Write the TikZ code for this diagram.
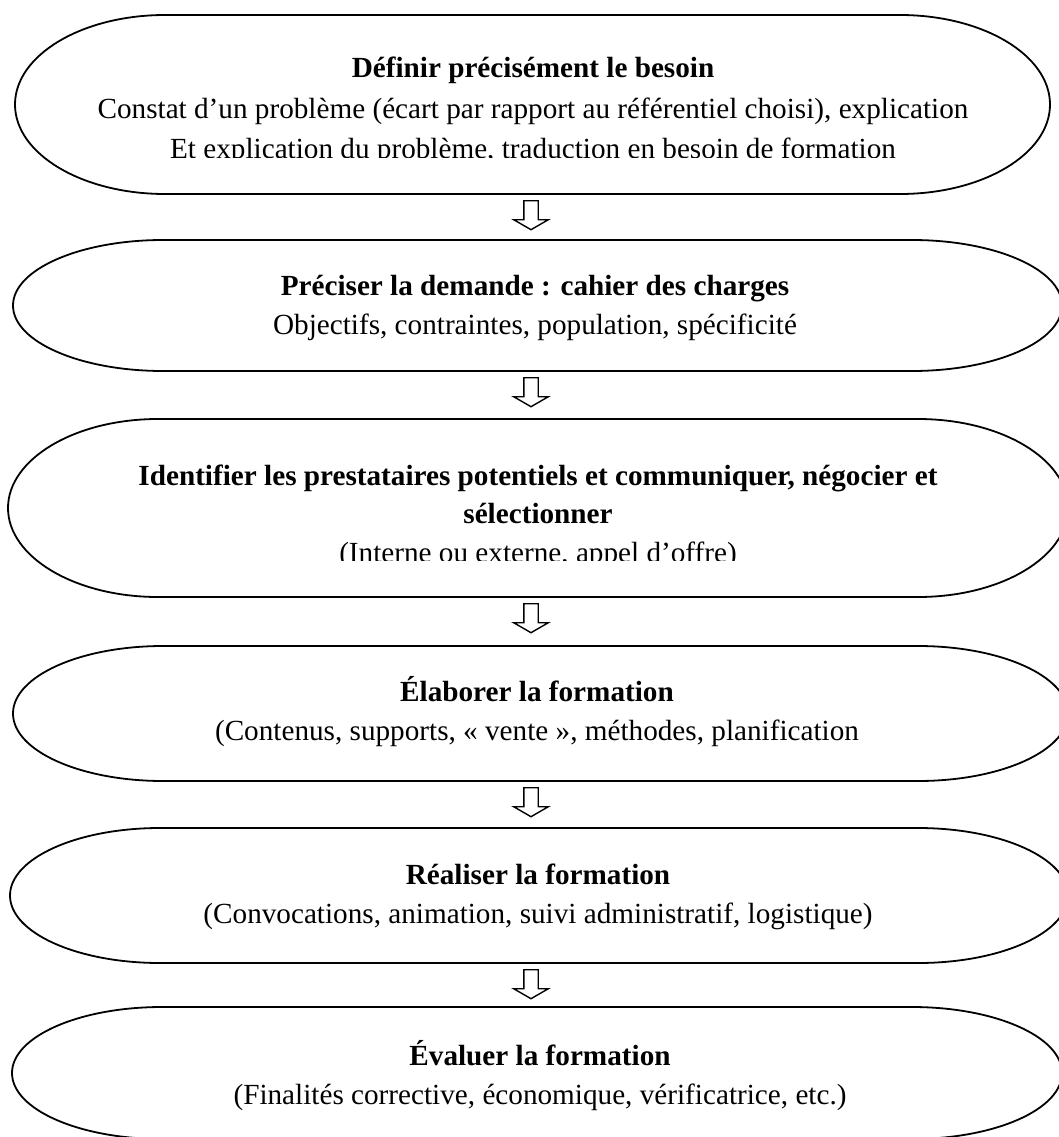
\documentclass[tikz,border=0pt]{standalone}
\usepackage{fontspec}
\setmainfont{Liberation Serif}
\usetikzlibrary{shapes.arrows}
\newcommand\stadium[2]{\draw[outline] ([xshift=150pt]#1.north west) -- ([xshift=-150pt]#1.north east) arc[start angle=90,end angle=-90,x radius=150pt,y radius=#2] -- ([xshift=150pt]#1.south west) arc[start angle=270,end angle=90,x radius=150pt,y radius=#2] -- cycle;}
\begin{document}
\begin{tikzpicture}[x=1pt,y=1pt,
  outline/.style={draw=black, line width=1.8pt},
  frame/.style={inner sep=0pt, outer sep=0pt},
  title/.style={font=\fontsize{29.2}{34}\selectfont\bfseries, anchor=base, inner sep=0pt},
  body/.style={font=\fontsize{29.2}{34}\selectfont, anchor=base, inner sep=0pt},
  blockarrow/.style={single arrow, draw=black, line width=1.4pt, fill=white, rotate=-90,
    single arrow head extend=10pt, single arrow tip angle=120, single arrow head indent=0pt,
    minimum height=29pt, inner sep=0pt, text height=6.5pt, text depth=6.5pt, anchor=tail}]
\useasboundingbox (0,0) rectangle (1059,-1137);
\clip (0,0) rectangle (1059,-1137);

% frames
\node[frame, minimum width=1035pt, minimum height=179pt] (s1) at (532.5,-104.5) {};
\node[frame, minimum width=1049pt, minimum height=131pt] (s2) at (537.5,-305.5) {};
\node[frame, minimum width=1060pt, minimum height=178pt] (s3) at (538,-508) {};
\node[frame, minimum width=1055pt, minimum height=135pt] (s4) at (540.5,-713.5) {};
\node[frame, minimum width=1058pt, minimum height=135pt] (s5) at (539,-895.5) {};
\node[frame, minimum width=1050pt, minimum height=132pt] (s6) at (537,-1073) {};

\stadium{s1}{89.5pt}
\stadium{s2}{65.5pt}
\stadium{s3}{89pt}
\stadium{s4}{67.5pt}
\stadium{s5}{67.5pt}
\stadium{s6}{66pt}

% texts
\node[title] (t1) at (533,-78) {Définir précisément le besoin};
\node[body] (b1a) at (533,-118) {Constat d’un problème (écart par rapport au référentiel choisi), explication};
\begin{scope}
\clip (0,0) rectangle (1059,-157.5);
\node[body] (b1b) at (533,-158) {Et explication du problème, traduction en besoin de formation};
\end{scope}

\node[title] (t2) at (535,-295) {Préciser la demande : cahier des charges};
\node[body] (b2) at (535,-334) {Objectifs, contraintes, population, spécificité};

\node[title] (t3a) at (538,-485) {Identifier les prestataires potentiels et communiquer, négocier et};
\node[title] (t3b) at (538,-523) {sélectionner};
\begin{scope}
\clip (0,0) rectangle (1059,-560);
\node[body] (b3) at (538,-562) {(Interne ou externe, appel d’offre)};
\end{scope}

\node[title] (t4) at (537,-701) {Élaborer la formation};
\node[body] (b4) at (537,-740) {(Contenus, supports, « vente », méthodes, planification};

\node[title] (t5) at (538,-884) {Réaliser la formation};
\node[body] (b5) at (538,-923) {(Convocations, animation, suivi administratif, logistique)};

\node[title] (t6) at (540,-1065) {Évaluer la formation};
\node[body] (b6) at (540,-1104) {(Finalités corrective, économique, vérificatrice, etc.)};

% block arrows
\node[blockarrow] (a1) at (531,-200) {};
\node[blockarrow] (a2) at (531,-377) {};
\node[blockarrow] (a3) at (531,-603) {};
\node[blockarrow] (a4) at (531,-787) {};
\node[blockarrow] (a5) at (531,-969) {};
\end{tikzpicture}
\end{document}
